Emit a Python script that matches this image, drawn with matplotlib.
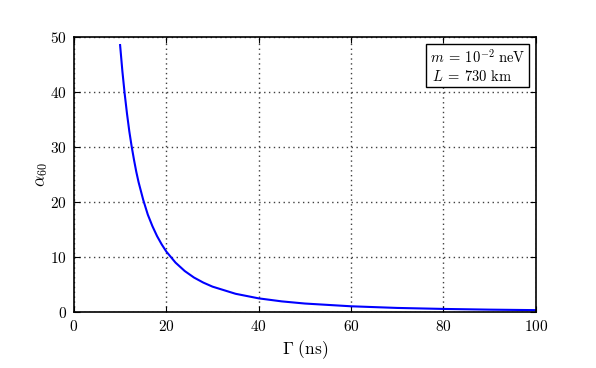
import matplotlib
matplotlib.use("Agg")
import matplotlib.pyplot as plt

plt.rcParams['mathtext.fontset'] = 'cm'
plt.rcParams['font.family'] = ['DejaVu Serif']

gamma = [10, 10.5, 11, 11.5, 12, 12.5, 13, 13.5, 14, 15, 16, 17, 18, 19, 20,
         22, 24, 26, 28, 30, 35, 40, 45, 50, 60, 70, 80, 90, 100]
alpha60 = [48.5, 43.7, 39.6, 36.0, 32.8, 30.1, 27.7, 25.5, 23.6, 20.4, 17.7,
           15.6, 13.8, 12.3, 11.0, 8.98, 7.45, 6.27, 5.36, 4.62, 3.32, 2.49,
           1.94, 1.55, 1.05, 0.75, 0.57, 0.44, 0.35]
xticks = [0, 20, 40, 60, 80, 100]
yticks = [0, 10, 20, 30, 40, 50]

fig = plt.figure(figsize=(5.96, 3.68), dpi=100)
ax = fig.add_axes([0.124, 0.152, 0.775, 0.748])
ax.plot(gamma, alpha60, color='#0000ff', lw=1.5)
ax.set_xlim(0, 100)
ax.set_ylim(0, 50)
ax.set_xticks(xticks)
ax.set_yticks(yticks)
ax.set_xticklabels([f'${v}$' for v in xticks], fontsize=11)
ax.set_yticklabels([f'${v}$' for v in yticks], fontsize=11)
ax.tick_params(direction='in', top=True, right=True, length=4, width=0.8, pad=5)
ax.grid(True, color='0.25', linestyle=(0, (1, 2.5)), linewidth=1.0)
for s in ax.spines.values():
    s.set_linewidth(1.2)
ax.set_xlabel(r'$\Gamma\ (\mathrm{ns})$', fontsize=12.5, labelpad=3)
ax.set_ylabel(r'$\alpha_{60}$', fontsize=12.5, labelpad=0)
ax.text(0.978, 0.96, '$m\\:=\\:10^{-2}\\ \\mathrm{neV}$\n$\\,L\\:=\\:730\\ \\mathrm{km}$',
        transform=ax.transAxes, ha='right', va='top', fontsize=10.5,
        multialignment='left', linespacing=1.25,
        bbox=dict(boxstyle='square,pad=0.25', facecolor='white',
                  edgecolor='black', linewidth=1.0))
fig.savefig('out.png', dpi=100)
